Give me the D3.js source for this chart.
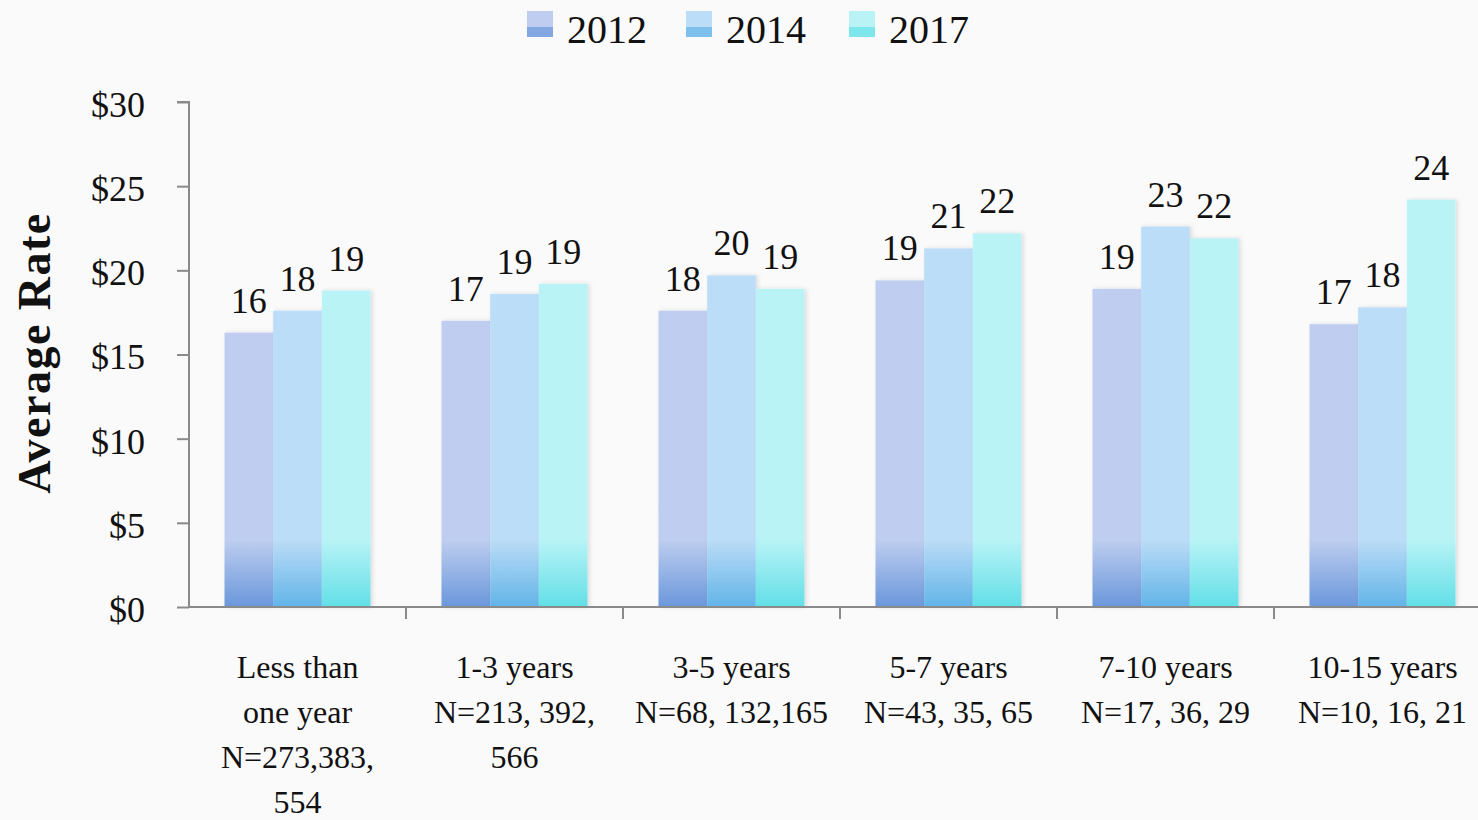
<!DOCTYPE html>
<html>
<head>
<meta charset="utf-8">
<script src="https://cdn.jsdelivr.net/npm/d3@7"></script>
<style>
  body { margin: 0; background: #fafafa; }
  svg { display: block; font-family: "Liberation Serif", "DejaVu Serif", serif; font-variant-numeric: oldstyle-nums; }
  .axis path, .axis line { stroke: #8a8a8a; stroke-width: 2; }
</style>
</head>
<body>
<svg class="bar-chart"></svg>
<script>
var width = 1478
var height = 820

var categories = ["Less than one year", "1-3 years", "3-5 years", "5-7 years", "7-10 years", "10-15 years"]
var categoryLines = [
  ["Less than", "one year", "N=273,383,", "554"],
  ["1-3 years", "N=213, 392,", "566"],
  ["3-5 years", "N=68, 132,165"],
  ["5-7 years", "N=43, 35, 65"],
  ["7-10 years", "N=17, 36, 29"],
  ["10-15 years", "N=10, 16, 21"]
]
var seriesNames = ["2012", "2014", "2017"]
var values2012 = [16.3, 17.0, 17.6, 19.4, 18.9, 16.8]
var values2014 = [17.6, 18.6, 19.7, 21.3, 22.6, 17.8]
var values2017 = [18.8, 19.2, 18.9, 22.2, 21.9, 24.2]
var yTicks = [0, 5, 10, 15, 20, 25, 30]

var seriesValues = [values2012, values2014, values2017]
var topColors = ["#bfcef0", "#bcddf7", "#b9f3f6"]
var bottomColors = ["#6a97da", "#62b4e8", "#62dfe7"]
var fontFamily = '"Liberation Serif", "DejaVu Serif", serif'

var svg = d3.select(".bar-chart")
    .attr("width", width)
    .attr("height", height)

var x0 = d3.scaleBand().domain(categories).range([189, 189 + 217 * 6]).padding(0)
var x1 = d3.scaleBand().domain(seriesNames).range([35.5, 181.5]).padding(0)
var y = d3.scaleLinear().domain([0, 30]).range([607, 102])

// gradients: darker band near the baseline
var defs = svg.append("defs")
seriesNames.forEach(function(s, i) {
  var g = defs.append("linearGradient")
    .attr("id", "grad" + s)
    .attr("gradientUnits", "userSpaceOnUse")
    .attr("x1", 0).attr("x2", 0)
    .attr("y1", y(0)).attr("y2", y(0) - 68)
  g.append("stop").attr("offset", "0%").attr("stop-color", bottomColors[i])
  g.append("stop").attr("offset", "100%").attr("stop-color", topColors[i])
})
var filter = defs.append("filter").attr("id", "shadow").attr("x", "-10%").attr("width", "130%")
filter.append("feDropShadow").attr("dx", 2).attr("dy", 0).attr("stdDeviation", 2)
  .attr("flood-color", "#000").attr("flood-opacity", 0.12)

// bars
var groups = svg.append("g").selectAll("g")
  .data(categories)
  .enter().append("g")
    .attr("transform", function(d) { return `translate(${x0(d)},0)` })

groups.selectAll("rect")
  .data(function(d, ci) { return seriesNames.map(function(s, si) { return {s: s, v: seriesValues[si][ci]} }) })
  .enter().append("rect")
    .attr("x", function(d) { return x1(d.s) })
    .attr("y", function(d) { return y(d.v) })
    .attr("width", x1.bandwidth())
    .attr("height", function(d) { return y(0) - y(d.v) })
    .attr("fill", function(d) { return "url(#grad" + d.s + ")" })
    .attr("filter", "url(#shadow)")

groups.selectAll("text.value")
  .data(function(d, ci) { return seriesNames.map(function(s, si) { return {s: s, v: seriesValues[si][ci]} }) })
  .enter().append("text")
    .attr("class", "value")
    .attr("x", function(d) { return x1(d.s) + x1.bandwidth() / 2 })
    .attr("y", function(d) { return y(d.v) - 20 })
    .attr("text-anchor", "middle")
    .attr("font-size", 36)
    .attr("fill", "#111")
    .text(function(d) { return Math.round(d.v) })

// y axis
svg.append("g")
    .attr("class", "axis")
    .attr("transform", "translate(189,0)")
    .call(d3.axisLeft(y).tickValues(yTicks).tickSize(12).tickPadding(32).tickFormat(function(d) { return "$" + d }))
    .call(function(g) { g.select(".domain").attr("d", "M-12,102H0V607") })
    .attr("font-family", fontFamily)
    .selectAll("text")
      .attr("font-size", 36)
      .attr("fill", "#111")
      .attr("dy", "0.4em")

// x axis
var xAxis = svg.append("g")
    .attr("class", "axis")
    .attr("transform", "translate(0,607)")
xAxis.append("path").attr("d", "M189,0H1478")
xAxis.selectAll("line")
  .data(categories)
  .enter().append("line")
    .attr("x1", function(d) { return x0(d) + x0.bandwidth() })
    .attr("x2", function(d) { return x0(d) + x0.bandwidth() })
    .attr("y1", 0).attr("y2", 12)

svg.append("g").selectAll("text")
  .data(categories)
  .enter().append("text")
    .attr("text-anchor", "middle")
    .attr("font-size", 32)
    .attr("fill", "#111")
    .attr("transform", function(d) { return `translate(${x0(d) + x0.bandwidth() / 2},678)` })
  .selectAll("tspan")
  .data(function(d, i) { return categoryLines[i] })
  .enter().append("tspan")
    .attr("x", 0)
    .attr("y", function(d, i) { return i * 45 })
    .text(function(d) { return d })

// y axis title
svg.append("text")
    .attr("transform", "translate(50,353) rotate(-90)")
    .attr("text-anchor", "middle")
    .attr("font-size", 46)
    .attr("font-weight", "bold")
    .attr("letter-spacing", 1.5)
    .attr("fill", "#111")
    .text("Average Rate")

// legend
var legendX = [527, 686, 849]
var legend = svg.append("g").selectAll("g")
  .data(seriesNames)
  .enter().append("g")
    .attr("transform", function(d, i) { return `translate(${legendX[i]},11)` })

legend.append("rect")
    .attr("width", 26)
    .attr("height", 26)
    .attr("fill", function(d, i) { return topColors[i] })
legend.append("rect")
    .attr("y", 16)
    .attr("width", 26)
    .attr("height", 10)
    .attr("fill", function(d, i) { return bottomColors[i] })
    .attr("opacity", 0.7)
legend.append("text")
    .attr("x", 40)
    .attr("y", 32)
    .attr("font-size", 40)
    .attr("fill", "#111")
    .text(function(d) { return d })
</script>
</body>
</html>
